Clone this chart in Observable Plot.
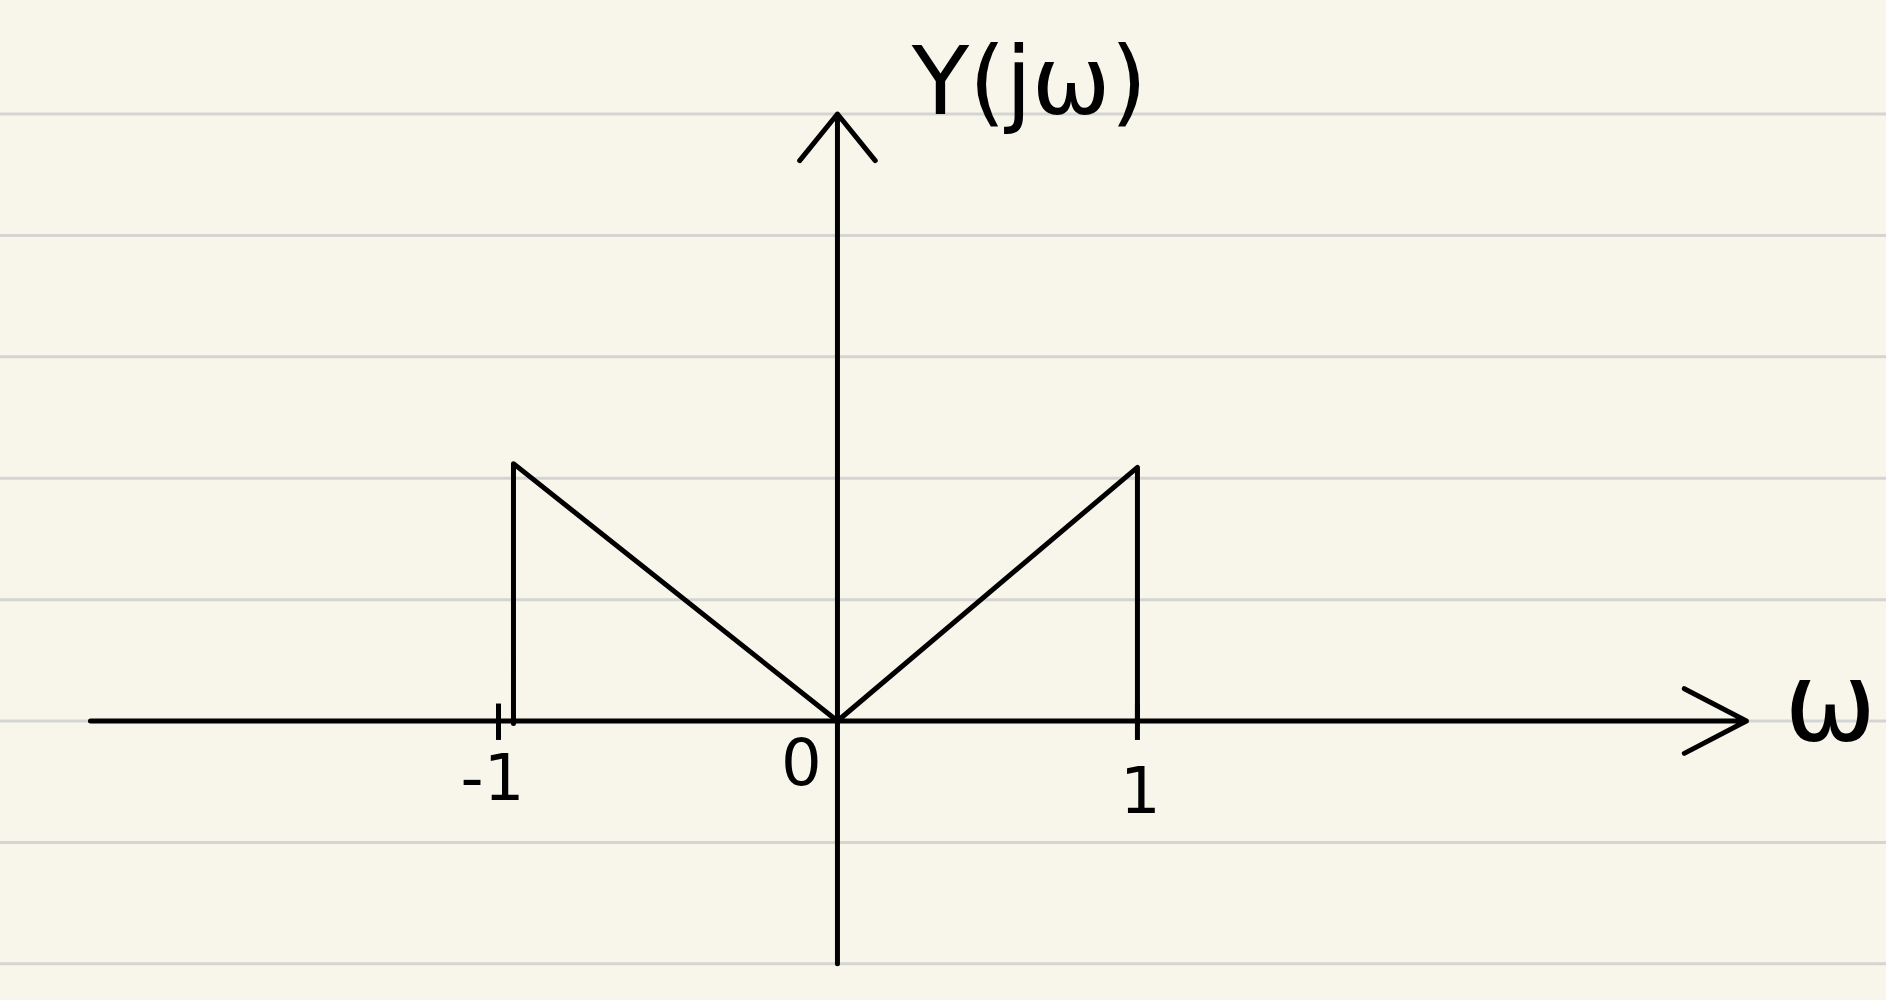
<!DOCTYPE html>
<html>
<head>
<meta charset="utf-8">
<script src="https://cdn.jsdelivr.net/npm/d3@7"></script>
<script src="https://cdn.jsdelivr.net/npm/@observablehq/plot@0.6"></script>
<style>
  html, body { margin: 0; padding: 0; background: #f8f6ea; }
  #chart svg { display: block; }
</style>
</head>
<body>
<div id="chart"></div>
<script>
// Notebook ruling (in units of the vertical axis)
const rulings = [-2, -1, 0, 1, 2, 3, 4, 5];

// Spectrum |Y(jω)| sketch: ω values and magnitudes
const omega = [-1.08, -1.08, 0, 1.0, 1.0];
const magnitude = [-0.02, 2.12, 0, 2.09, -0.02];

// Axis extents
const omegaAxis = [-2.49, 3.03];
const yAxisExtent = [-2.0, 5.0];

// Hand-drawn tick marks on the ω axis
const tickOmega = [-1.13, 1.0];

// Tick labels
const tickLabels = ["-1", "0", "1"];
const tickLabelOmega = [-1.15, -0.12, 1.01];
const tickLabelY = [-0.48, -0.36, -0.59];

// Axis titles
const axisTitles = ["Y(jω)", "ω"];
const axisTitleOmega = [0.64, 3.31];
const axisTitleY = [5.25, 0.13];

const spectrum = omega.map((w, i) => ({w, m: magnitude[i]}));
const ticks = tickLabels.map((t, i) => ({t, x: tickLabelOmega[i], y: tickLabelY[i]}));
const titles = axisTitles.map((t, i) => ({t, x: axisTitleOmega[i], y: axisTitleY[i]}));

const ink = "#000";

const chart = Plot.plot({
  width: 1886,
  height: 1000,
  margin: 0,
  x: {domain: [-2.79, 3.497], axis: null},
  y: {domain: [-2.302, 5.935], axis: null},
  style: {background: "#f8f6ea", fontFamily: "'DejaVu Sans', sans-serif"},
  marks: [
    Plot.ruleY(rulings, {stroke: "#d4d4d2", strokeWidth: 3}),
    // ω axis with arrow
    Plot.arrow([{}], {x1: omegaAxis[0], x2: omegaAxis[1], y1: 0, y2: 0,
      stroke: ink, strokeWidth: 5, headLength: 21, headAngle: 55}),
    // vertical axis with arrow
    Plot.arrow([{}], {x1: 0, x2: 0, y1: yAxisExtent[0], y2: yAxisExtent[1],
      stroke: ink, strokeWidth: 5, headLength: 18, headAngle: 78}),
    Plot.ruleX(tickOmega, {y1: 0.14, y2: -0.16, stroke: ink, strokeWidth: 5}),
    Plot.line(spectrum, {x: "w", y: "m", stroke: ink, strokeWidth: 5, strokeLinejoin: "round", strokeLinecap: "round"}),
    Plot.text(ticks, {x: "x", y: "y", text: "t", fontSize: 64, fill: ink}),
    Plot.text(titles.slice(0, 1), {x: "x", y: "y", text: "t", fontSize: 94, fill: ink}),
    Plot.text(titles.slice(1), {x: "x", y: "y", text: "t", fontSize: 110, fill: ink})
  ]
});
document.getElementById("chart").appendChild(chart);
</script>
</body>
</html>
